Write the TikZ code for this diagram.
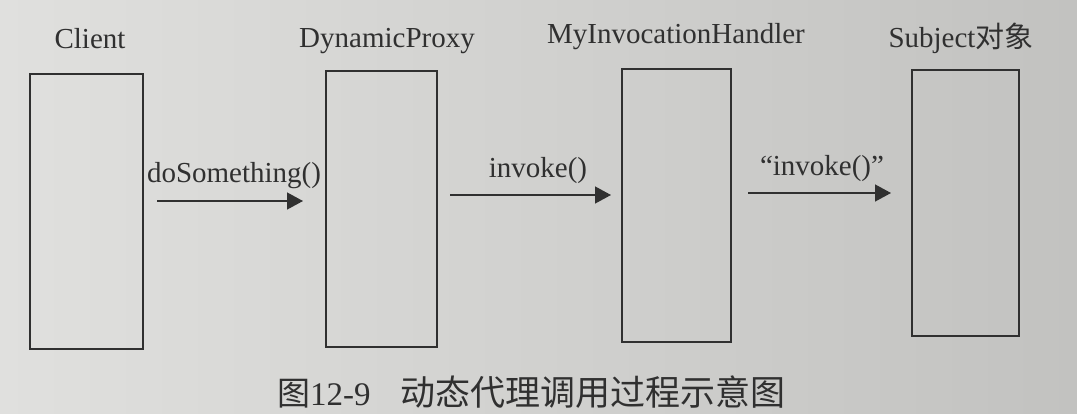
\documentclass[tikz,border=0pt]{standalone}
\usepackage{fontspec}
\setmainfont{Liberation Serif}
\newfontfamily\cjk{Noto Sans CJK SC}
\usetikzlibrary{arrows.meta}
\definecolor{ink}{RGB}{48,48,48}
\definecolor{paperL}{RGB}{224,224,222}
\definecolor{paperR}{RGB}{194,194,192}
\begin{document}
\begin{tikzpicture}[x=1pt,y=-1pt,
  lane/.style={draw=ink,line width=1.4pt,rectangle,inner sep=0pt},
  title/.style={anchor=base,text=ink,font=\fontsize{29}{32}\selectfont,inner sep=0pt},
  msg/.style={anchor=base,text=ink,font=\fontsize{29}{32}\selectfont,inner sep=0pt},
  call/.style={draw=ink,line width=1.4pt,-{Triangle[length=16pt,width=17pt]}}]
\shade[left color=paperL,right color=paperR] (0,0) rectangle (1077,413);
\useasboundingbox (0,0) rectangle (1077,413);
% lanes
\node[lane,minimum width=113pt,minimum height=275pt] (client) at (86.5,211.5) {};
\node[lane,minimum width=111pt,minimum height=276pt] (proxy) at (381.5,209) {};
\node[lane,minimum width=109pt,minimum height=273pt] (handler) at (676.5,205.5) {};
\node[lane,minimum width=107pt,minimum height=266pt] (subject) at (965.5,203) {};
% titles
\node[title] (tclient) at (90,48) {Client};
\node[title] (tproxy) at (387,47) {DynamicProxy};
\node[title] (thandler) at (676,43) {MyInvocationHandler};
\node[title] (tsubject) at (961,47) {Subject{\cjk 对象}};
% messages
\coordinate (a1) at (157,201); \coordinate (a2) at (303,201);
\coordinate (b1) at (450,195); \coordinate (b2) at (611,195);
\coordinate (c1) at (748,193); \coordinate (c2) at (891,193);
\draw[call] (a1) -- (a2);
\draw[call] (b1) -- (b2);
\draw[call] (c1) -- (c2);
\node[msg] (m1) at (234,182) {doSomething()};
\node[msg] (m2) at (538,177) {invoke()};
\node[msg] (m3) at (822,175) {“invoke()”};
% caption
\node[anchor=base west,text=ink,font=\fontsize{33}{36}\selectfont,inner sep=0pt] (cap) at (277,405)
  {{\cjk 图}12-9\hspace{0.9em}{\cjk\fontsize{35}{38}\selectfont 动态代理调用过程示意图}};
\end{tikzpicture}
\end{document}
